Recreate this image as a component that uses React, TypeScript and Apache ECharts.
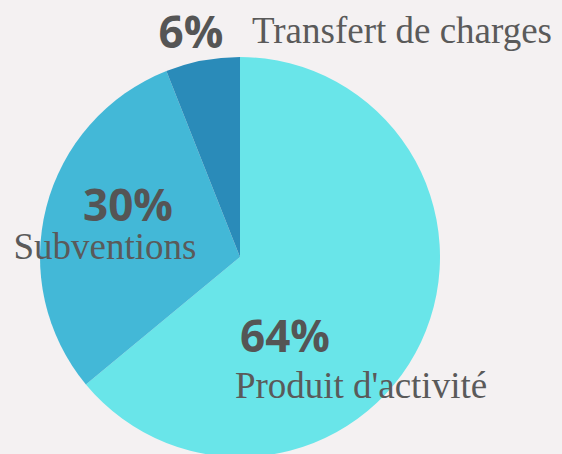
import React, { useEffect, useRef } from "react";
import * as echarts from "echarts";

const categories = ["Produit d'activité", "Subventions", "Transfert de charges"];
const values = [64, 30, 6];
const colors = ["#69e5e9", "#43b8d7", "#2a8bb9"];

// label anchor positions (layout only)
const pctPos = [
  [285, 335],
  [128, 204],
  [191, 31],
];
const namePos = [
  [361, 385],
  [105, 246],
  [402, 30],
];

export default function App() {
  const ref = useRef<HTMLDivElement>(null);
  useEffect(() => {
    const chart = echarts.init(ref.current!, null, { renderer: "svg" });
    const graphics: any[] = [];
    values.forEach((v, i) => {
      graphics.push({
        type: "text",
        x: pctPos[i][0],
        y: pctPos[i][1],
        z: 10,
        style: {
          text: v + "%",
          font: "bold 44px 'Open Sans'",
          lineHeight: 34,
          fill: "#555555",
          align: "center",
          verticalAlign: "middle",
        },
      });
      graphics.push({
        type: "text",
        x: namePos[i][0],
        y: namePos[i][1],
        z: 10,
        style: {
          text: categories[i],
          font: "37px 'Liberation Serif'",
          lineHeight: 32,
          fill: "#5a5a5a",
          align: "center",
          verticalAlign: "middle",
        },
      });
    });
    chart.setOption({
      animation: false,
      backgroundColor: "#f4f1f2",
      graphic: graphics,
      series: [
        {
          type: "pie",
          center: [240, 257],
          radius: 200,
          startAngle: 90,
          clockwise: true,
          label: { show: false },
          labelLine: { show: false },
          itemStyle: { borderWidth: 0 },
          data: categories.map((c, i) => ({
            name: c,
            value: values[i],
            itemStyle: { color: colors[i] },
          })),
        },
      ],
    });
    return () => chart.dispose();
  }, []);
  return (
    <div
      ref={ref}
      style={{ position: "absolute", left: 0, top: 0, width: 562, height: 454 }}
    />
  );
}
